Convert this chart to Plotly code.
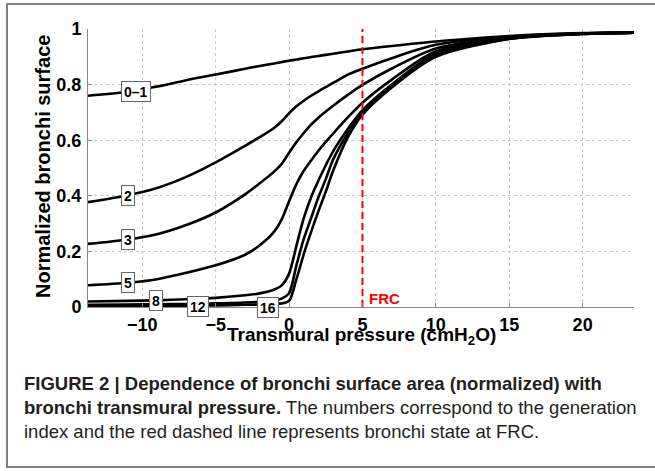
import plotly.graph_objects as go

# Transmural pressure grid (cmH2O) at which the curves were read
pressure = [-13.7, -11, -9, -7, -5, -3, -2, -1, -0.5, 0, 0.5, 1, 1.5, 2, 2.5, 3, 4, 5, 7, 10, 15, 20, 23.5]

gen_0_1 = [0.760, 0.774, 0.793, 0.816, 0.836, 0.857, 0.867, 0.876, 0.881, 0.886, 0.890, 0.895, 0.899, 0.903, 0.907, 0.911, 0.919, 0.927, 0.939, 0.955, 0.975, 0.985, 0.987]
gen_2 = [0.377, 0.402, 0.428, 0.468, 0.520, 0.580, 0.611, 0.645, 0.668, 0.697, 0.722, 0.742, 0.760, 0.776, 0.791, 0.806, 0.836, 0.857, 0.895, 0.943, 0.973, 0.984, 0.987]
gen_3 = [0.227, 0.243, 0.262, 0.295, 0.340, 0.405, 0.445, 0.488, 0.515, 0.555, 0.593, 0.626, 0.656, 0.681, 0.703, 0.724, 0.763, 0.799, 0.858, 0.930, 0.970, 0.984, 0.987]
gen_5 = [0.078, 0.087, 0.100, 0.123, 0.150, 0.188, 0.222, 0.272, 0.315, 0.380, 0.442, 0.490, 0.527, 0.562, 0.594, 0.624, 0.682, 0.735, 0.818, 0.920, 0.968, 0.984, 0.987]
gen_8 = [0.020, 0.022, 0.024, 0.028, 0.033, 0.042, 0.049, 0.063, 0.078, 0.120, 0.220, 0.320, 0.395, 0.455, 0.510, 0.560, 0.640, 0.708, 0.800, 0.912, 0.966, 0.983, 0.987]
gen_12 = [0.008, 0.009, 0.010, 0.011, 0.013, 0.016, 0.019, 0.024, 0.030, 0.050, 0.150, 0.245, 0.320, 0.395, 0.460, 0.530, 0.625, 0.700, 0.795, 0.906, 0.965, 0.982, 0.987]
gen_16 = [0.004, 0.004, 0.005, 0.005, 0.006, 0.008, 0.009, 0.011, 0.013, 0.022, 0.100, 0.190, 0.270, 0.345, 0.415, 0.490, 0.610, 0.692, 0.790, 0.900, 0.964, 0.982, 0.987]

series_names = ["0–1", "2", "3", "5", "8", "12", "16"]
series_values = [gen_0_1, gen_2, gen_3, gen_5, gen_8, gen_12, gen_16]

# label positions (x, y) in data coordinates
label_x = [-10.4, -11.0, -11.0, -11.0, -9.1, -6.2, -1.43]
label_y = [0.774, 0.400, 0.243, 0.087, 0.022, 0.001, 0.0]

frc_pressure = 5
x_ticks = [-10, -5, 0, 5, 10, 15, 20]
y_ticks = [0, 0.2, 0.4, 0.6, 0.8, 1]
y_tick_text = ["0", "0.2", "0.4", "0.6", "0.8", "1"]

caption_lines = [
    "<b>FIGURE 2 | Dependence of bronchi surface area (normalized) with</b>",
    "<b>bronchi transmural pressure.</b> The numbers correspond to the generation",
    "index and the red dashed line represents bronchi state at FRC.",
]

W, H = 655, 471
L, R, T, B = 88, 634, 29, 307


def px(xp):
    return (xp - L) / (R - L)


def py(yp):
    return (B - yp) / (B - T)


FONT = "Liberation Sans, Arial, sans-serif"

fig = go.Figure()
for name, vals in zip(series_names, series_values):
    fig.add_trace(go.Scatter(x=pressure, y=vals, mode="lines", name=name,
                             line=dict(color="black", width=2.6, shape="spline", smoothing=0.8),
                             showlegend=False, hoverinfo="skip"))

# FRC dashed line
fig.add_trace(go.Scatter(x=[frc_pressure, frc_pressure], y=[0, 1], mode="lines",
                         line=dict(color="#ff0000", width=2, dash="7px,4px"),
                         showlegend=False, hoverinfo="skip"))

annotations = []
for name, lx, ly in zip(series_names, label_x, label_y):
    annotations.append(dict(x=lx, y=ly, xref="x", yref="y", text="<b>%s</b>" % name,
                            showarrow=False, font=dict(family=FONT, size=14, color="black"),
                            bgcolor="white", bordercolor="#666", borderwidth=1, borderpad=2,
                            height=15))

annotations.append(dict(x=frc_pressure + 0.3, y=0.029, xref="x", yref="y", text="<b>FRC</b>",
                        showarrow=False, xanchor="left", yanchor="middle",
                        font=dict(family=FONT, size=15, color="#ff0000")))

annotations.append(dict(x=px(43), y=py(167), xref="paper", yref="paper",
                        xanchor="center", yanchor="middle",
                        text="<b>Normalized bronchi surface</b>", textangle=-90, showarrow=False,
                        font=dict(family=FONT, size=20, color="black")))
annotations.append(dict(x=px(361), y=py(336), xref="paper", yref="paper",
                        xanchor="center", yanchor="middle",
                        text="<b>Transmural pressure (cmH<sub>2</sub>O)</b>", showarrow=False,
                        font=dict(family=FONT, size=19, color="black")))

cap_y = [383, 407.5, 432]
for line, yy in zip(caption_lines, cap_y):
    annotations.append(dict(x=px(22), y=py(yy), xref="paper", yref="paper", text=line,
                            showarrow=False, xanchor="left", yanchor="middle", align="left",
                            font=dict(family=FONT, size=18.5, color="#231f20")))

fig.update_layout(
    width=W, height=H,
    margin=dict(l=L, r=W - R, t=T, b=H - B, pad=0),
    paper_bgcolor="white", plot_bgcolor="white",
    annotations=annotations,
    shapes=[dict(type="rect", xref="paper", yref="paper", x0=px(7), x1=px(665), y0=py(467), y1=py(4),
                 line=dict(color="#808080", width=2), fillcolor="rgba(0,0,0,0)", layer="below")],
    xaxis=dict(range=[-13.7, 23.5], tickvals=x_ticks, showgrid=True, gridcolor="#c8c8c8",
               griddash="dot", gridwidth=1, zeroline=False, showline=True, linecolor="#888",
               linewidth=1, ticks="inside", ticklen=4, tickcolor="#888", ticklabelstandoff=1,
               tickfont=dict(family=FONT, size=18, color="black", weight="bold")),
    yaxis=dict(range=[0, 1], tickvals=y_ticks, ticktext=y_tick_text, showgrid=True,
               gridcolor="#c8c8c8", griddash="dot", gridwidth=1, zeroline=False, showline=True,
               linecolor="#888", linewidth=1, ticks="inside", ticklen=4, tickcolor="#888",
               ticklabelstandoff=2,
               tickfont=dict(family=FONT, size=18, color="black", weight="bold")),
)

fig.write_html("out.html", config={"displayModeBar": False},
               post_script="document.body.style.margin='0px';document.body.style.overflow='hidden';")
